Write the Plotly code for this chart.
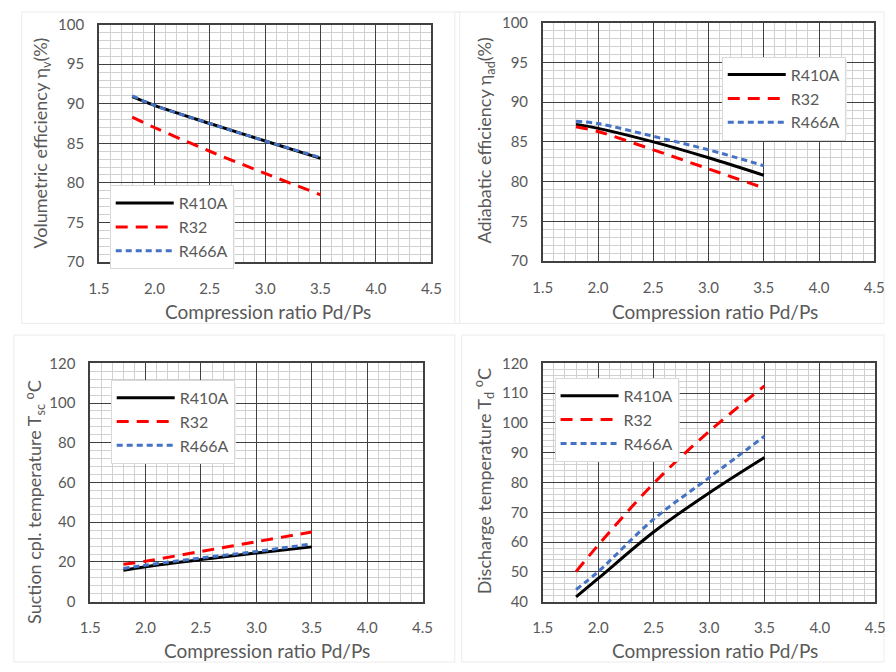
import plotly.graph_objects as go

# ---------------- data ----------------
x_ratio = [1.8, 2.0, 2.5, 3.0, 3.5]

vol_R410A = [90.9, 89.8, 87.5, 85.3, 83.1]
vol_R32 = [88.3, 87.0, 84.0, 81.2, 78.5]
vol_R466A = [91.0, 89.8, 87.5, 85.3, 83.2]

ad_R410A = [87.2, 86.7, 85.0, 83.0, 80.8]
ad_R32 = [86.9, 86.3, 84.0, 81.6, 79.2]
ad_R466A = [87.6, 87.3, 85.7, 84.0, 82.0]

suc_R410A = [15.8, 17.6, 21.2, 24.5, 27.6]
suc_R32 = [18.8, 20.4, 25.3, 30.2, 35.1]
suc_R466A = [16.7, 18.4, 22.0, 25.3, 29.1]

dis_R410A = [41.6, 47.8, 63.4, 76.5, 88.4]
dis_R32 = [50.1, 59.0, 79.7, 97.1, 112.4]
dis_R466A = [44.1, 50.1, 67.7, 81.6, 95.5]

refrigerants = ["R410A", "R32", "R466A"]
x_title = "Compression ratio Pd/Ps"
y_titles = [
    "Volumetric efficiency η<sub>v</sub>(%)",
    "Adiabatic efficiency η<sub>ad</sub>(%)",
    "Suction cpl. temperature T<sub>sc</sub> <sup>o</sup>C",
    "Discharge temperature T<sub>d</sub> <sup>o</sup>C",
]

panels = [
    (vol_R410A, vol_R32, vol_R466A),
    (ad_R410A, ad_R32, ad_R466A),
    (suc_R410A, suc_R32, suc_R466A),
    (dis_R410A, dis_R32, dis_R466A),
]

# ---------------- styling ----------------
W, H = 896, 672
FONT = "Lato"
GRAY = "#595959"
styles = [
    dict(color="#000000", width=3, dash="solid"),
    dict(color="#ff0000", width=3, dash="12px,8px"),
    dict(color="#4472c4", width=3, dash="6px,4px"),
]

# pixel boxes of plot areas: (left, right, top, bottom)
boxes = [(91, 431, 15, 259), (545, 884, 13, 258), (82, 422, 363, 608), (545, 885, 363, 608)]
yranges = [(70, 100, 5, 1), (70, 100, 5, 1), (0, 120, 20, 4), (40, 120, 10, 2)]
legend_box = [(102, 180, 124, 77), (728, 48, 124, 77), (103, 380, 124, 77), (557, 378, 124, 77)]
ytitle_pos = [(32, 137), (486, 134), (26, 505), (485, 484)]
xtitle_pos = [(264, 310), (721, 310), (263, 658), (721, 658)]
panel_frames = [(12, 460, 2, 322), (455, 894, 2, 322), (4, 455, 334, 670), (462, 894, 334, 670)]

fig = go.Figure()
layout = dict(
    width=W, height=H, margin=dict(l=0, r=0, t=0, b=0),
    paper_bgcolor="white", plot_bgcolor="white",
    font=dict(family=FONT, color=GRAY),
    annotations=[], shapes=[],
)


def px(xp):
    return xp / W


def py(yp):
    return 1 - yp / H


for i, (series, box, yr) in enumerate(zip(panels, boxes, yranges)):
    n = i + 1
    xa = "x" if n == 1 else f"x{n}"
    ya = "y" if n == 1 else f"y{n}"
    lg = "legend" if n == 1 else f"legend{n}"
    for name, vals, st in zip(refrigerants, series, styles):
        fig.add_trace(go.Scatter(
            x=x_ratio, y=vals, name=name, mode="lines",
            line=dict(color=st["color"], width=st["width"], dash=st["dash"], shape="spline"),
            xaxis=xa, yaxis=ya, legend=lg,
        ))
    l, r, t, b = box
    axis_common = dict(
        showline=True, mirror=True, linecolor="#404040", linewidth=1.5,
        showgrid=True, gridcolor="#404040", gridwidth=1.2,
        ticks="", zeroline=False,
        tickfont=dict(family=FONT, size=15, color=GRAY),
    )
    layout["xaxis" if n == 1 else f"xaxis{n}"] = dict(
        axis_common, domain=[px(l), px(r)], range=[1.5, 4.5], dtick=0.5, tick0=1.5,
        tickformat=".1f", anchor=ya, ticklabelstandoff=12,
        minor=dict(dtick=0.1, showgrid=True, gridcolor="#d0d0d0", gridwidth=1),
    )
    layout["yaxis" if n == 1 else f"yaxis{n}"] = dict(
        axis_common, domain=[py(b), py(t)], range=[yr[0], yr[1]], dtick=yr[2], tick0=yr[0],
        anchor=xa, ticklabelstandoff=10,
        minor=dict(dtick=yr[3], showgrid=True, gridcolor="#d0d0d0", gridwidth=1),
    )
    lx, ly, lw, lh = legend_box[i]
    layout[lg] = dict(
        x=px(lx), y=py(ly), xanchor="left", yanchor="top",
        bgcolor="white", bordercolor="#d9d9d9", borderwidth=1,
        font=dict(family=FONT, size=16, color=GRAY),
        itemwidth=58,
    )
    # soft shadow behind the legend box
    for k, c in [(4, "#ededed"), (3, "#dcdcdc"), (2, "#cccccc")]:
        layout["shapes"].append(dict(
            type="rect", xref="paper", yref="paper", layer="above",
            x0=px(lx + k), x1=px(lx + lw + k), y0=py(ly + lh + k), y1=py(ly + k),
            line=dict(width=0), fillcolor=c,
        ))
    tx, ty = ytitle_pos[i]
    layout["annotations"].append(dict(
        text=y_titles[i], x=px(tx), y=py(ty), xref="paper", yref="paper",
        showarrow=False, textangle=-90, xanchor="center", yanchor="middle",
        font=dict(family=FONT, size=18, color=GRAY),
    ))
    tx, ty = xtitle_pos[i]
    layout["annotations"].append(dict(
        text=x_title, x=px(tx), y=py(ty), xref="paper", yref="paper",
        showarrow=False, xanchor="center", yanchor="middle",
        font=dict(family=FONT, size=19, color=GRAY),
    ))
    fl, fr, ft, fb = panel_frames[i]
    layout["shapes"].append(dict(
        type="rect", xref="paper", yref="paper", layer="below",
        x0=px(fl), x1=px(fr), y0=py(fb), y1=py(ft),
        line=dict(color="#ececec", width=1), fillcolor="rgba(0,0,0,0)",
    ))

fig.update_layout(**layout)
fig.write_html(
    "out.html",
    config={"displayModeBar": False},
    post_script="document.body.style.margin='0';document.body.style.overflow='hidden';",
)
